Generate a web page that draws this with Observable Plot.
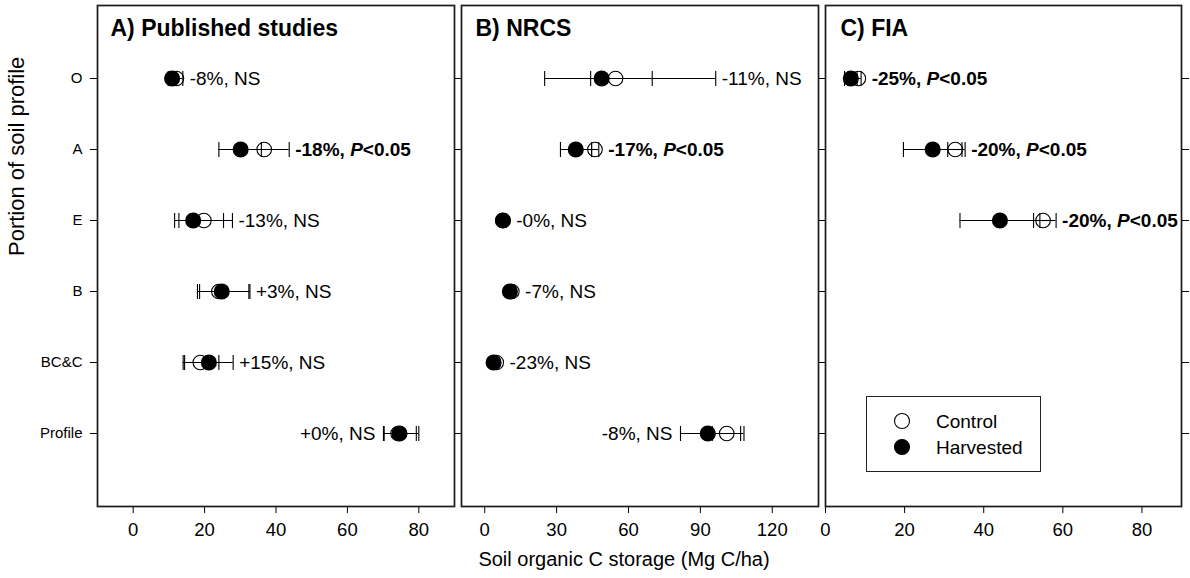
<!DOCTYPE html>
<html><head><meta charset="utf-8">
<script src="https://cdn.jsdelivr.net/npm/d3@7"></script>
<script src="https://cdn.jsdelivr.net/npm/@observablehq/plot@0.6"></script>
<style>
body{margin:0;background:#fff;}
#chart{position:relative;width:1190px;height:578px;overflow:hidden;font-family:"Liberation Sans",Arial,sans-serif;color:#000;}
#legend{position:absolute;left:866px;top:396px;width:175px;height:76px;box-sizing:border-box;border:1.5px solid #222;background:#fff;}
</style></head><body><div id="chart"></div>
<script>
const rows = ["O","A","E","B","BC&C","Profile"];
const legendLabels = ["Control","Harvested"];
const yTitle = "Portion of soil profile";
const xTitle = "Soil organic C storage (Mg C/ha)";

// A) Published studies
const titleA = "A) Published studies";
const ctrlA   = [12.1, 36.7, 19.8, 24.0, 18.8, 74.2];
const harvA   = [10.9, 30.1, 16.8, 24.8, 21.2, 74.6];
const ctrlLoA = [10.4, 29.7, 12.8, 18.0, 14.0, 70.1];
const ctrlHiA = [13.9, 43.7, 27.8, 32.4, 24.0, 79.3];
const harvLoA = [9.8, 24.0, 11.6, 18.6, 14.4, 70.3];
const harvHiA = [12.0, 35.9, 25.3, 32.7, 28.0, 80.0];
const labelsA = ["-8%, NS", "-18%, P<0.05", "-13%, NS", "+3%, NS", "+15%, NS", "+0%, NS"];
const sidesA  = ["right","right","right","right","right","left"];
const ticksA  = [0, 20, 40, 60, 80];

// B) NRCS
const titleB = "B) NRCS";
const ctrlB   = [54.6, 46.0, 7.6, 11.3, 4.8, 101.0];
const harvB   = [48.8, 38.0, 7.6, 10.5, 3.7, 93.1];
const ctrlLoB = [44.2, 44.6, 6.9, 10.6, 4.2, 95.0];
const ctrlHiB = [96.4, 47.6, 8.3, 12.0, 5.4, 108.2];
const harvLoB = [25.0, 31.6, 6.9, 9.8, 3.1, 81.7];
const harvHiB = [69.9, 44.6, 8.3, 11.2, 4.3, 106.8];
const labelsB = ["-11%, NS", "-17%, P<0.05", "-0%, NS", "-7%, NS", "-23%, NS", "-8%, NS"];
const sidesB  = ["right","right","right","right","right","left"];
const ticksB  = [0, 30, 60, 90, 120];

// C) FIA
const titleC = "C) FIA";
const ctrlC   = [8.3, 32.8, 55.0];
const harvC   = [6.4, 27.1, 44.1];
const ctrlLoC = [7.0, 30.9, 52.6];
const ctrlHiC = [9.0, 35.3, 58.3];
const harvLoC = [4.8, 19.7, 34.0];
const harvHiC = [8.0, 34.5, 54.2];
const labelsC = ["-25%, P<0.05", "-20%, P<0.05", "-20%, P<0.05"];
const sidesC  = ["right","right","right"];
const ticksC  = [0, 20, 40, 60, 80];

const R = 7.3;
const capSymbol = {draw(ctx, size) { const r = Math.sqrt(size / Math.PI); ctx.moveTo(0, -r); ctx.lineTo(0, r); }};

function panel(cfg) {
  const {left, width, marginLeft, marginRight, domain, ticks, title, ctrl, harv, cLo, cHi, hLo, hHi, labels, sides, showY, extra = []} = cfg;
  const frameW = width - marginLeft - marginRight;
  const ru = R / (frameW / (domain[1] - domain[0]));
  const data = ctrl.map((c, i) => ({row: rows[i], ctrl: c, harv: harv[i], cLo: cLo[i], cHi: cHi[i], hLo: hLo[i], hHi: hHi[i], label: labels[i], side: sides[i]}));
  data.forEach(d => {
    d.lx = d.side === "left" ? Math.min(d.cLo, d.hLo, d.ctrl - ru, d.harv - ru) : Math.max(d.cHi, d.hHi, d.ctrl + ru, d.harv + ru);
    d.bold = d.label.includes("P<");
  });
  const caps = data.flatMap(d => [d.cLo, d.cHi, d.hLo, d.hHi].map(v => ({row: d.row, v})));
  const textMarks = [];
  for (const side of ["left", "right"]) for (const bold of [false, true]) {
    const sub = data.filter(d => d.side === side && d.bold === bold);
    if (!sub.length) continue;
    textMarks.push(Plot.text(sub, {x: "lx", y: "row", text: "label", textAnchor: side === "left" ? "end" : "start", dx: side === "left" ? -8 : 6, fontSize: 19, fontWeight: bold ? "bold" : "normal", fill: "#000"}));
  }
  const svg = Plot.plot({
    width, height: 578, marginLeft, marginRight, marginTop: 5, marginBottom: 72,
    style: {fontFamily: '"Liberation Sans", Arial, sans-serif', background: "transparent", overflow: "visible", color: "#000"},
    x: {domain, label: null},
    y: {type: "point", domain: rows, padding: 1, label: null},
    marks: [
      Plot.axisX({ticks, tickSize: 7, tickPadding: 9, fontSize: 18.5, label: null, stroke: "#000"}),
      Plot.axisY({anchor: "left", tickSize: 7, tickPadding: 8, fontSize: 15, label: null, tickFormat: showY ? (d => d) : (() => "")}),
      Plot.axisY({anchor: "right", tickSize: 7, label: null, tickFormat: () => ""}),
      Plot.frame({stroke: "#1a1a1a", strokeWidth: 1.7}),
      Plot.dot(data, {x: "ctrl", y: "row", r: R, fill: "white", stroke: "#000", strokeWidth: 1.1}),
      Plot.ruleY(data, {y: "row", x1: "cLo", x2: "cHi", stroke: "#000", strokeWidth: 1.1}),
      Plot.ruleY(data, {y: "row", x1: "hLo", x2: "hHi", stroke: "#000", strokeWidth: 1.1}),
      Plot.dot(caps, {x: "v", y: "row", r: 7.5, symbol: capSymbol, fill: "none", stroke: "#000", strokeWidth: 1.1}),
      Plot.dot(data, {x: "harv", y: "row", r: R, fill: "#000", stroke: "#000"}),
      ...textMarks,
      Plot.text([title], {text: d => d, frameAnchor: "top-left", dx: cfg.titleDx, dy: 23, textAnchor: "start", lineAnchor: "middle", fontSize: 23, fontWeight: "bold", fill: "#000"}),
      ...extra
    ]
  });
  svg.style.position = "absolute";
  svg.style.top = "0px";
  svg.style.left = left + "px";
  svg.style.maxWidth = "none";
  svg.querySelectorAll("text").forEach(t => {
    const s = t.textContent;
    const i = s.indexOf("P<");
    if (i < 0 || t.querySelector("tspan")) return;
    t.textContent = "";
    const parts = [[s.slice(0, i), null], ["P", "italic"], [s.slice(i + 1), null]];
    for (const [str, st] of parts) {
      const ts = document.createElementNS("http://www.w3.org/2000/svg", "tspan");
      ts.textContent = str;
      if (st) ts.setAttribute("font-style", st);
      t.appendChild(ts);
    }
  });
  return svg;
}

const chart = document.getElementById("chart");
chart.appendChild(panel({left: 0, width: 461, marginLeft: 97, marginRight: 7, domain: [-10, 90], ticks: ticksA, title: titleA, titleDx: 13,
  ctrl: ctrlA, harv: harvA, cLo: ctrlLoA, cHi: ctrlHiA, hLo: harvLoA, hHi: harvHiA, labels: labelsA, sides: sidesA, showY: true,
  extra: [Plot.text([yTitle], {text: d => d, frameAnchor: "left", dx: -81, rotate: -90, fontSize: 22, fill: "#000"})]}));
chart.appendChild(panel({left: 454, width: 371, marginLeft: 7, marginRight: 7, domain: [-9.7, 139.3], ticks: ticksB, title: titleB, titleDx: 14,
  ctrl: ctrlB, harv: harvB, cLo: ctrlLoB, cHi: ctrlHiB, hLo: harvLoB, hHi: harvHiB, labels: labelsB, sides: sidesB, showY: false,
  extra: [Plot.text([xTitle], {text: d => d, frameAnchor: "bottom", dy: 59, dx: -16, fontSize: 20, fill: "#000"})]}));
chart.appendChild(panel({left: 818, width: 372, marginLeft: 7, marginRight: 9, domain: [0, 90], ticks: ticksC, title: titleC, titleDx: 15,
  ctrl: ctrlC, harv: harvC, cLo: ctrlLoC, cHi: ctrlHiC, hLo: harvLoC, hHi: harvHiC, labels: labelsC, sides: sidesC, showY: false}));

// Legend
const legend = d3.select(chart).append("div").attr("id", "legend");
const lsvg = legend.append("svg").attr("width", 172).attr("height", 73).style("display", "block");
const items = lsvg.selectAll("g").data(legendLabels).join("g").attr("transform", (d, i) => `translate(0,${24 + i * 26})`);
items.append("circle").attr("cx", 35).attr("r", 7.5).attr("fill", (d, i) => i ? "#000" : "#fff").attr("stroke", "#000").attr("stroke-width", 1.1);
items.append("text").attr("x", 69).attr("dy", "0.35em").attr("font-size", 19).attr("font-family", '"Liberation Sans", Arial, sans-serif').text(d => d);
</script>
</body></html>
